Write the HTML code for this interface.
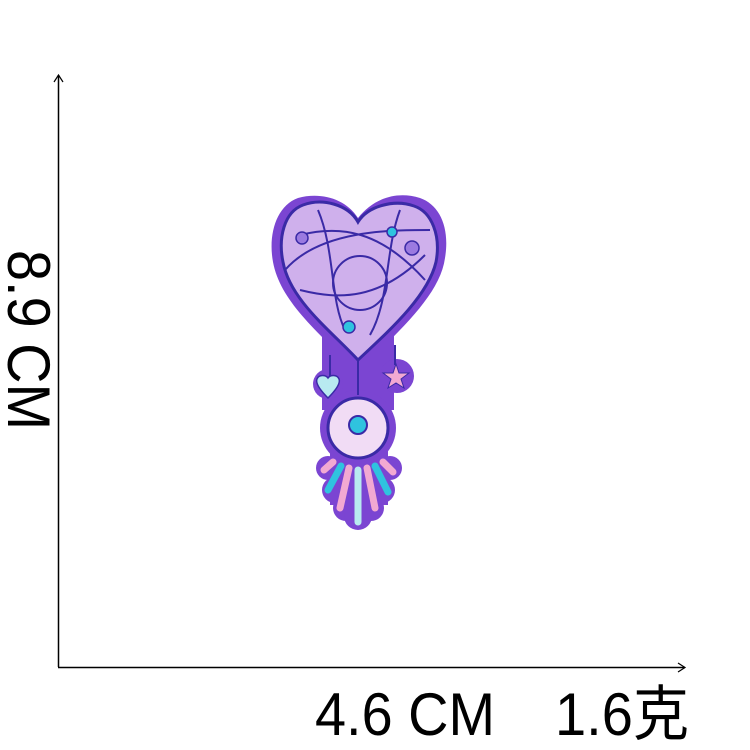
<!DOCTYPE html>
<html><head><meta charset="utf-8"><style>
html,body{margin:0;padding:0;background:#fff;width:750px;height:750px;overflow:hidden}
svg{display:block}
text{font-family:"Liberation Sans","Noto Sans CJK SC",sans-serif;fill:#000}
</style></head><body>
<svg width="750" height="750" viewBox="0 0 750 750">
<g>
<line x1="58.5" y1="75" x2="58.5" y2="667" stroke="#000" stroke-width="1.5"/>
<path d="M54 82 L58.5 75 L63 82" fill="none" stroke="#000" stroke-width="1.2"/>
</g>
<g>
<line x1="58" y1="667.5" x2="685" y2="667.5" stroke="#000" stroke-width="1.5"/>
<path d="M678 663 L685 667.5 L678 672" fill="none" stroke="#000" stroke-width="1.2"/>
</g>
<text transform="translate(8,250) rotate(90)" font-size="60" textLength="180" lengthAdjust="spacingAndGlyphs">8.9 CM</text>
<text x="315" y="735" font-size="60" textLength="180" lengthAdjust="spacingAndGlyphs">4.6 CM</text>
<text x="555" y="735" font-size="60" textLength="134" lengthAdjust="spacingAndGlyphs">1.6克</text>

<g>
<g fill="#7b45d2">
<path d="M358 218 C345 198 320 192 298 198 C276 206 268 235 273 262 C280 300 315 330 358 372 C400 330 440 295 445 258 C450 228 440 205 420 198 C395 190 372 200 358 218 Z"/>
<rect x="322" y="330" width="72" height="80"/>
<circle cx="328" cy="384" r="15"/>
<circle cx="397" cy="376" r="17"/>
<circle cx="358" cy="428" r="38"/>
<circle cx="328" cy="468" r="12"/>
<circle cx="335" cy="490" r="13"/>
<circle cx="346" cy="508" r="13"/>
<circle cx="358" cy="516" r="14"/>
<circle cx="371" cy="508" r="13"/>
<circle cx="382" cy="490" r="13"/>
<circle cx="390" cy="468" r="12"/>
<rect x="330" y="450" width="58" height="55"/>
</g>
<path fill="#cfb0ec" stroke="#3a2aa6" stroke-width="3" d="M358 222 C348 204 322 198 303 205 C284 212 278 238 283 262 C290 300 330 330 358 360 C390 330 428 296 436 262 C441 236 432 212 414 206 C394 199 368 206 358 222 Z"/>
<g fill="none" stroke="#3a2aa6" stroke-width="2">
<circle cx="360" cy="283" r="27"/>
<path d="M300 235 C340 225 380 230 425 280"/>
<path d="M300 290 C340 300 380 300 425 255"/>
<path d="M318 210 C335 250 330 300 345 330"/>
<path d="M400 210 C385 250 390 300 370 335"/>
<path d="M285 270 C320 230 390 230 430 230"/>
<path d="M330 355 L330 378 M395 345 L395 365 M358 360 L358 395"/>
</g>
<circle cx="302" cy="238" r="6" fill="#9b7ae0" stroke="#3a2aa6" stroke-width="1.5"/>
<circle cx="392" cy="232" r="5" fill="#2fc3df" stroke="#3a2aa6" stroke-width="1.5"/>
<circle cx="412" cy="248" r="7" fill="#9b7ae0" stroke="#3a2aa6" stroke-width="1.5"/>
<circle cx="349" cy="327" r="6" fill="#2fc3df" stroke="#3a2aa6" stroke-width="1.5"/>
<path fill="#b8eaf0" stroke="#3a2aa6" stroke-width="1.5" d="M328 398 C322 392 315 384 317 379 C319 374 326 375 328 378 C330 375 337 374 339 379 C341 384 334 392 328 398 Z"/>
<polygon fill="#f2a9d2" stroke="#3a2aa6" stroke-width="1" points="396,364 399,373 409,373 401,379 404,388 396,383 388,388 391,379 383,373 393,373"/>
<circle cx="358" cy="428" r="30" fill="#f1dcf5" stroke="#3a2aa6" stroke-width="3"/>
<circle cx="358" cy="425" r="9" fill="#2fc3df" stroke="#3a2aa6" stroke-width="2"/>
<g stroke-linecap="round" stroke-width="7">
<line x1="333" y1="462" x2="324" y2="470" stroke="#f2a9d2"/>
<line x1="341" y1="466" x2="328" y2="490" stroke="#2fc3df"/>
<line x1="349" y1="468" x2="340" y2="508" stroke="#f2a9d2"/>
<line x1="358" y1="470" x2="358" y2="522" stroke="#b8eaf0"/>
<line x1="367" y1="468" x2="375" y2="508" stroke="#f2a9d2"/>
<line x1="375" y1="466" x2="388" y2="492" stroke="#2fc3df"/>
<line x1="383" y1="462" x2="393" y2="472" stroke="#f2a9d2"/>
</g>
</g>
</svg>
</body></html>
